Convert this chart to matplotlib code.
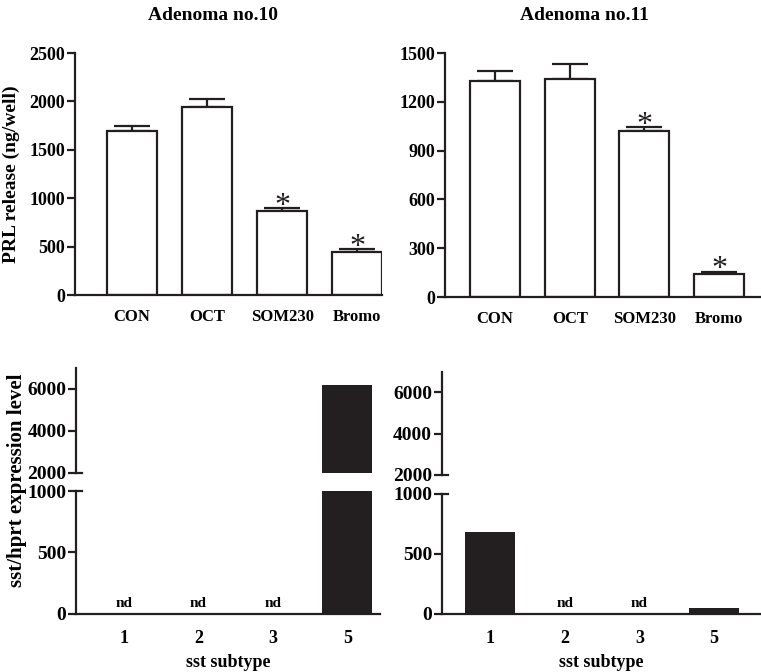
import matplotlib
matplotlib.use("Agg")
import matplotlib.pyplot as plt
import numpy as np

plt.rcParams['font.family'] = ['Liberation Serif', 'DejaVu Serif']
plt.rcParams['font.weight'] = 'bold'

# ---------------- data ----------------
treatments = ["CON", "OCT", "SOM230", "Bromo"]
prl_10 = [1694, 1942, 871, 447]
prl_10_err = [52, 86, 25, 25]
prl_11 = [1328, 1340, 1019, 144]
prl_11_err = [59, 95, 24, 10]
signif = [False, False, True, True]

subtypes = ["1", "2", "3", "5"]
sst_10 = [0, 0, 0, 6200]
sst_11 = [683, 0, 0, 45]
nd_10 = [True, True, True, False]
nd_11 = [False, True, True, False]

W, H = 761, 672
fig = plt.figure(figsize=(W / 100, H / 100), dpi=100)

LINE = "#231f20"
LW = 1.6


def px_axes(x0, x1, y0, y1):
    # pixel box (top-left origin) -> figure axes
    return fig.add_axes([x0 / W, 1 - y1 / H, (x1 - x0) / W, (y1 - y0) / H])


def style(ax, bottom=True, ysize=13):
    for s in ["top", "right"]:
        ax.spines[s].set_visible(False)
    ax.spines["left"].set_linewidth(LW)
    ax.spines["left"].set_color(LINE)
    if bottom:
        ax.spines["bottom"].set_linewidth(LW)
        ax.spines["bottom"].set_color(LINE)
    else:
        ax.spines["bottom"].set_visible(False)
    ax.tick_params(axis="y", length=6, width=LW, color=LINE, labelsize=ysize, pad=1)
    ax.tick_params(axis="x", length=0, labelsize=12, pad=10)
    for lab in ax.get_yticklabels() + ax.get_xticklabels():
        lab.set_fontweight("bold")


def prl_panel(ax, vals, errs, ylim, yticks, xlim, title, tx):
    x = np.arange(len(treatments))
    ax.bar(x, vals, width=0.67, color="white", edgecolor=LINE, linewidth=LW, zorder=2)
    ax.errorbar(x, vals, yerr=[np.zeros(len(errs)), errs], fmt="none",
                ecolor=LINE, elinewidth=LW, capsize=13, capthick=LW, zorder=1)
    for i, s in enumerate(signif):
        if s:
            ax.annotate("*", (x[i], vals[i] + errs[i]), xytext=(0, -9),
                        textcoords="offset points", ha="center", va="bottom",
                        fontsize=23, fontweight="normal", color=LINE)
    ax.set_xlim(*xlim)
    ax.set_ylim(*ylim)
    ax.set_yticks(yticks)
    ax.set_xticks(x)
    ax.set_xticklabels(treatments)
    style(ax)
    fig.text(tx / W, 1 - 15 / H, title, ha="center", va="center",
             fontsize=14, fontweight="bold")


ax1 = px_axes(75, 382, 53, 295)
prl_panel(ax1, prl_10, prl_10_err, (0, 2500), [0, 500, 1000, 1500, 2000, 2500],
          (-0.76, 3.33), "Adenoma no.10", 213)
ax1.set_ylabel("PRL release (ng/well)", fontsize=14, fontweight="bold")
ax1.yaxis.set_label_coords((20 - 75) / 307, 0.5)

ax2 = px_axes(445, 761, 53, 297)
prl_panel(ax2, prl_11, prl_11_err, (0, 1500), [0, 300, 600, 900, 1200, 1500],
          (-0.67, 3.56), "Adenoma no.11", 584)


def sst_panel(x0, x1, yt, yb_up, yt_lo, yb, vals, nds, xlim):
    up = px_axes(x0, x1, yt, yb_up)
    lo = px_axes(x0, x1, yt_lo, yb)
    x = np.arange(len(subtypes))
    for ax in (up, lo):
        ax.bar(x, vals, width=0.67, color=LINE, edgecolor=LINE, linewidth=0)
        ax.set_xlim(*xlim)
    up.set_ylim(2000, 7000)
    up.set_yticks([2000, 4000, 6000])
    up.set_xticks([])
    lo.set_ylim(0, 1000)
    lo.set_yticks([0, 500, 1000])
    lo.set_xticks(x)
    lo.set_xticklabels(subtypes)
    style(up, bottom=False, ysize=14)
    style(lo, ysize=14)
    lo.tick_params(axis="x", labelsize=13, pad=12)
    for lab in lo.get_xticklabels():
        lab.set_fontweight("bold")
    # break marks
    up.plot([0, 0.02], [0, 0], transform=up.transAxes, color=LINE, lw=LW, clip_on=False)
    lo.plot([0, 0.02], [1, 1], transform=lo.transAxes, color=LINE, lw=LW, clip_on=False)
    for i, n in enumerate(nds):
        if n:
            lo.text(x[i], 30, "nd", ha="center", va="bottom", fontsize=11,
                    fontweight="bold")
    lo.set_xlabel("sst subtype", fontsize=13, fontweight="bold", labelpad=5)
    return up, lo


up3, lo3 = sst_panel(76, 380, 368, 472.7, 491, 613.7, sst_10, nd_10, (-0.646, 3.44))
fig.text(17 / W, 1 - 480 / H, "sst/hprt expression level", rotation=90,
         ha="center", va="center", fontsize=15, fontweight="bold")
sst_panel(441.7, 761, 371.7, 474.7, 494, 613.7, sst_11, nd_11, (-0.65, 3.63))

fig.savefig("out.png", dpi=100)
